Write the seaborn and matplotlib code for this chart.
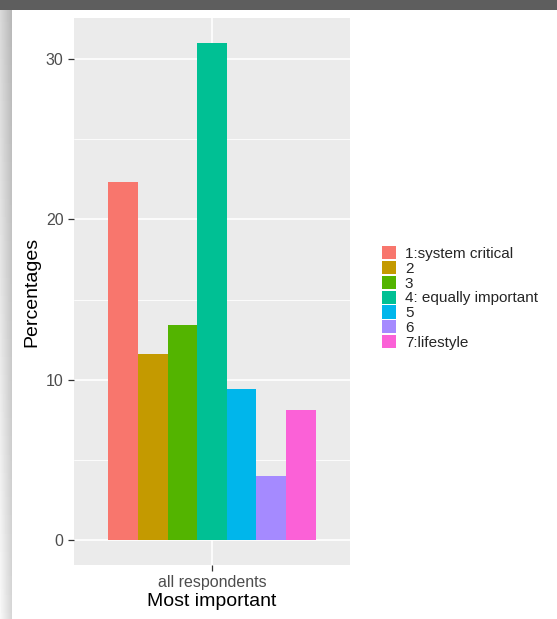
import numpy as np
import matplotlib
matplotlib.use("Agg")
import matplotlib.pyplot as plt
from matplotlib.patches import Rectangle
import pandas as pd
import seaborn as sns

# data
ratings = ["1:system critical", "2", "3", "4: equally important", "5", "6", "7:lifestyle"]
percentages = [22.3, 11.6, 13.4, 31.0, 9.4, 4.0, 8.1]
group = "all respondents"
colors = ["#F8766D", "#C49A00", "#53B400", "#00C094", "#00B6EB", "#A58AFF", "#FB61D7"]

df = pd.DataFrame({"group": [group] * len(ratings),
                   "rating": ratings,
                   "pct": percentages})

sns.set_theme(style="darkgrid", rc={
    "axes.facecolor": "#EBEBEB",
    "grid.color": "white",
})
plt.rcParams["font.family"] = ["Liberation Sans", "DejaVu Sans"]

fig = plt.figure(figsize=(5.57, 6.19), dpi=100)
fig.patch.set_facecolor("white")
ax = fig.add_axes([74 / 557, 1 - 565 / 619, (350 - 74) / 557, (565 - 18) / 619])

sns.barplot(data=df, x="group", y="pct", hue="rating", hue_order=ratings,
            palette=colors, width=0.9, saturation=1, linewidth=0, ax=ax)

# ggplot-like limits and grid
ymax = max(percentages)
ax.set_ylim(-0.05 * ymax, 1.05 * ymax)
ax.set_xlim(-0.6, 0.6)
ax.set_yticks([0, 10, 20, 30])
ax.set_yticks([5, 15, 25], minor=True)
ax.grid(True, which="major", color="white", linewidth=1.2)
ax.grid(True, which="minor", axis="y", color="white", linewidth=0.6)
ax.set_axisbelow(True)
for s in ax.spines.values():
    s.set_visible(False)
ax.tick_params(axis="both", which="major", length=4.5, width=0.9, color="#333333",
               labelcolor="#4D4D4D", labelsize=11.5, pad=3, bottom=True, left=True)
ax.tick_params(axis="y", which="minor", length=0)
ax.set_ylabel("Percentages", fontsize=14, color="black", labelpad=4)
ax.set_xlabel("Most important", fontsize=14, color="black", labelpad=2)

handles, labels = ax.get_legend_handles_labels()
ax.get_legend().remove()
fig.legend(handles, labels, loc="center left", bbox_to_anchor=(382 / 557, 1 - 298 / 619),
           frameon=False, fontsize=11, handlelength=0.9, handleheight=0.95,
           labelspacing=0.0, handletextpad=0.6, borderpad=0, borderaxespad=0)

# screenshot frame: dark band on top, grey shading on the left
fig.add_artist(Rectangle((0, 1 - 10 / 619), 1, 10 / 619, transform=fig.transFigure,
                         facecolor="#5E5E5E", edgecolor="none"))
shade = fig.add_axes([0, 0, 12 / 557, 1 - 10 / 619])
hx = np.linspace(0.85, 0.72, 12)[None, :]
vy = np.linspace(0.0, 0.12, 100)[:, None]
shade.imshow(np.clip(hx + vy, 0, 1), cmap="gray", vmin=0, vmax=1, aspect="auto")
shade.axis("off")

fig.savefig("out.png", dpi=100)
